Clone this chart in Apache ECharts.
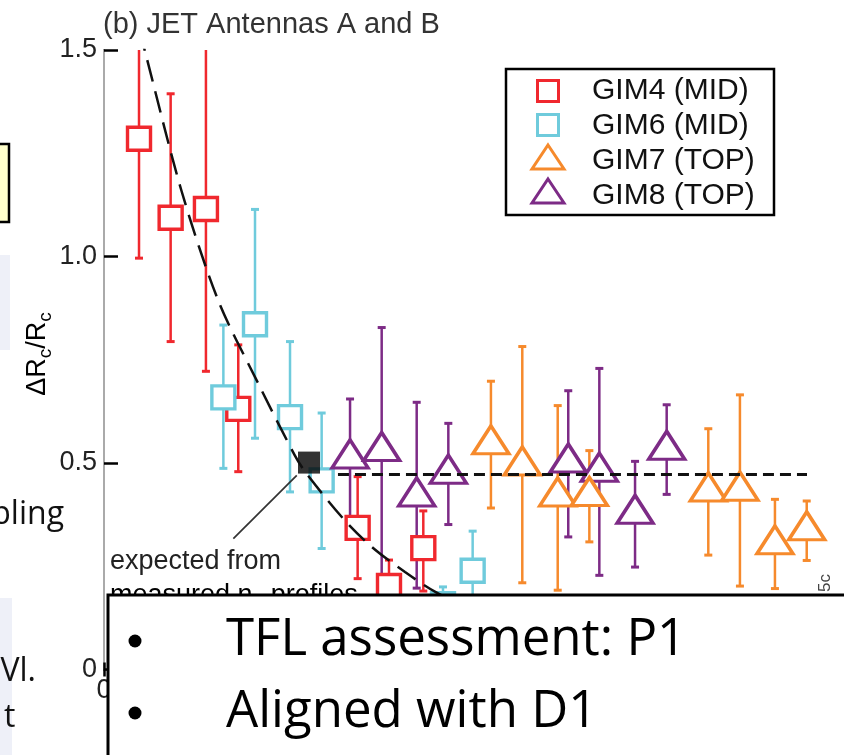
<!DOCTYPE html>
<html>
<head>
<meta charset="utf-8">
<script src="https://cdn.jsdelivr.net/npm/echarts@6/dist/echarts.min.js"></script>
<style>
  html, body { margin: 0; padding: 0; background: #fff; }
  #chart { width: 844px; height: 755px; }
</style>
</head>
<body>
<div id="chart"></div>
<script>
// ---- axis ranges ----
const X_MIN = 0, X_MAX = 5, X_STEP = 1;
const Y_MIN = 0, Y_MAX = 1.5, Y_STEP = 0.5;

// ---- GIM4 (MID), red squares: position, value, error-bar bounds ----
const gim4X  = [0.249, 0.474, 0.725, 0.955, 1.804, 2.027, 2.271];
const gim4Y  = [1.285, 1.094, 1.115, 0.631, 0.343, 0.202, 0.294];
const gim4Lo = [0.996, 0.794, 0.722, 0.479, 0.220, 0.100, 0.190];
const gim4Hi = [1.620, 1.394, 1.650, 0.786, 0.467, 0.265, 0.384];

// ---- GIM6 (MID), cyan squares ----
const gim6X  = [0.849, 1.074, 1.323, 1.548, 2.411, 2.622];
const gim6Y  = [0.659, 0.836, 0.611, 0.458, 0.158, 0.239];
const gim6Lo = [0.487, 0.560, 0.430, 0.293, 0.050, 0.100];
const gim6Hi = [0.834, 1.114, 0.794, 0.621, 0.200, 0.335];

// ---- GIM7 (TOP), orange triangles ----
const gim7X  = [2.752, 2.975, 3.227, 3.452, 4.298, 4.523, 4.772, 4.998];
const gim7Y  = [0.556, 0.505, 0.430, 0.431, 0.442, 0.444, 0.314, 0.348];
const gim7Lo = [0.391, 0.210, 0.192, 0.309, 0.277, 0.202, 0.196, 0.264];
const gim7Hi = [0.698, 0.782, 0.639, 0.530, 0.583, 0.665, 0.412, 0.408];

// ---- GIM8 (TOP), purple triangles ----
const gim8X  = [1.750, 1.975, 2.224, 2.449, 3.302, 3.523, 3.777, 4.002];
const gim8Y  = [0.522, 0.540, 0.430, 0.485, 0.512, 0.490, 0.388, 0.543];
const gim8Lo = [0.370, 0.180, 0.197, 0.351, 0.321, 0.228, 0.248, 0.424];
const gim8Hi = [0.655, 0.828, 0.647, 0.596, 0.675, 0.729, 0.504, 0.641];

// ---- expectation from measured density profiles ----
const curveX = [0.25, 0.292, 0.552, 0.813, 1.086, 1.358, 1.441, 1.702, 1.904, 2.141, 2.366, 2.60];
const curveY = [1.55, 1.496, 1.158, 0.893, 0.700, 0.518, 0.474, 0.365, 0.297, 0.236, 0.186, 0.150];
const expectedPoint = [1.458, 0.501];
const levelX = [1.664, 5.0];
const levelY = [0.472, 0.472];
const arrowFrom = [0.920, 0.317];
const arrowTo   = [1.371, 0.470];

// ---- texts ----
const titleText = '(b) JET Antennas A and B';
const annotationLines = ['expected from', 'measured n', 'e', ' profiles'];
const bulletLines = ['TFL assessment: P1', 'Aligned with D1'];
const seriesNames = ['GIM4 (MID)', 'GIM6 (MID)', 'GIM7 (TOP)', 'GIM8 (TOP)'];

const RED = '#f0282e', CYAN = '#6fcbdc', ORANGE = '#f68a2c', PURPLE = '#7d2b86';
const PLOT_FONT = '"Liberation Sans", Arial, Helvetica, sans-serif';
const SLIDE_FONT = '"Open Sans", sans-serif';

function errorBars(name, xs, los, his, color, lw) {
  return {
    type: 'custom',
    name: name + ' err',
    silent: true,
    data: xs.map((x, i) => [x, los[i], his[i]]),
    encode: { x: 0, y: [1, 2] },
    renderItem(params, api) {
      const x = api.value(0), lo = api.value(1), hi = api.value(2);
      const top = api.coord([x, Math.min(hi, Y_MAX)]);
      const bot = api.coord([x, Math.max(lo, Y_MIN)]);
      const cap = 4;
      const st = { stroke: color, lineWidth: lw };
      const children = [
        { type: 'line', shape: { x1: top[0], y1: top[1], x2: bot[0], y2: bot[1] }, style: st }
      ];
      if (hi <= Y_MAX) children.push({ type: 'line', shape: { x1: top[0] - cap, y1: top[1], x2: top[0] + cap, y2: top[1] }, style: { stroke: color, lineWidth: 3 } });
      if (lo >= Y_MIN) children.push({ type: 'line', shape: { x1: bot[0] - cap, y1: bot[1], x2: bot[0] + cap, y2: bot[1] }, style: { stroke: color, lineWidth: 3 } });
      return { type: 'group', children };
    }
  };
}

function markers(name, xs, ys, symbol, size, color) {
  return {
    type: 'scatter',
    name,
    silent: true,
    symbol,
    symbolSize: size,
    data: xs.map((x, i) => [x, ys[i]]),
    itemStyle: { color: '#fff', borderColor: color, borderWidth: 3.4, opacity: 1 }
  };
}

const SQ = 23, TRI = [36, 28];

const series = [
  errorBars(seriesNames[0], gim4X, gim4Lo, gim4Hi, RED, 2.5),
  markers(seriesNames[0], gim4X, gim4Y, 'rect', SQ, RED),
  errorBars(seriesNames[1], gim6X, gim6Lo, gim6Hi, CYAN, 2.5),
  markers(seriesNames[1], gim6X, gim6Y, 'rect', SQ, CYAN),
  errorBars(seriesNames[3], gim8X, gim8Lo, gim8Hi, PURPLE, 2.5),
  markers(seriesNames[3], gim8X, gim8Y, 'triangle', TRI, PURPLE),
  errorBars(seriesNames[2], gim7X, gim7Lo, gim7Hi, ORANGE, 2.5),
  markers(seriesNames[2], gim7X, gim7Y, 'triangle', TRI, ORANGE),
  {
    type: 'line', name: 'expected', silent: true, symbol: 'none', smooth: 0.3,
    data: curveX.map((x, i) => [x, curveY[i]]),
    lineStyle: { color: '#111', width: 2.5, type: [22, 10] },
    markLine: {
      silent: true, symbol: ['none', 'arrow'], symbolSize: [0, 13],
      label: { show: false },
      lineStyle: { color: '#333', width: 1.7, type: 'solid' },
      data: [[{ coord: arrowFrom }, { coord: arrowTo }]]
    }
  },
  {
    type: 'line', name: 'level', silent: true, symbol: 'none',
    data: levelX.map((x, i) => [x, levelY[i]]),
    lineStyle: { color: '#111', width: 3, type: [11, 6] }
  },
  {
    type: 'scatter', name: 'expected point', silent: true, symbol: 'rect', symbolSize: 22,
    data: [expectedPoint],
    itemStyle: { color: '#000' }
  }
];

// legend box drawn as graphic
const legendRows = [
  { name: seriesNames[0], shape: 'rect', color: RED, cy: 91 },
  { name: seriesNames[1], shape: 'rect', color: CYAN, cy: 125 },
  { name: seriesNames[2], shape: 'tri', color: ORANGE, cy: 157 },
  { name: seriesNames[3], shape: 'tri', color: PURPLE, cy: 191 }
];
const legendTextY = [91, 126, 161, 196];
const legendGraphics = [
  { type: 'rect', z: 50, shape: { x: 506, y: 69, width: 268, height: 146 }, style: { fill: '#fff', stroke: '#000', lineWidth: 2.5 } }
];
legendRows.forEach((r, i) => {
  const cx = 548;
  if (r.shape === 'rect') {
    legendGraphics.push({ type: 'rect', z: 51, shape: { x: cx - 10.5, y: r.cy - 10.5, width: 21, height: 21 }, style: { fill: '#fff', stroke: r.color, lineWidth: 3 } });
  } else {
    legendGraphics.push({ type: 'polygon', z: 51, shape: { points: [[cx, r.cy - 12], [cx + 16, r.cy + 12], [cx - 16, r.cy + 12]] }, style: { fill: '#fff', stroke: r.color, lineWidth: 3 } });
  }
  legendGraphics.push({ type: 'text', z: 51, x: 592, y: legendTextY[i], style: { text: r.name, font: '30px ' + PLOT_FONT, fill: '#111', textAlign: 'left', textVerticalAlign: 'middle' } });
});

const option = {
  animation: false,
  backgroundColor: '#fff',
  grid: { left: 104, right: 37, top: 50, bottom: 85.5, containLabel: false, outerBoundsMode: 'none' },
  xAxis: [
    {
      type: 'value', min: X_MIN, max: X_MAX, interval: X_STEP, position: 'bottom',
      axisLine: { show: true, lineStyle: { color: '#000', width: 2 } },
      axisTick: { show: true, inside: true, length: 7, lineStyle: { color: '#000', width: 2.5 } },
      axisLabel: { show: true, margin: 8, fontSize: 27, fontFamily: PLOT_FONT, color: '#222' },
      splitLine: { show: false }
    },
    {
      type: 'value', min: X_MIN, max: X_MAX, interval: X_STEP, position: 'top',
      axisLine: { show: true, lineStyle: { color: '#aaa', width: 2 } },
      axisTick: { show: true, inside: true, length: 7, lineStyle: { color: '#000', width: 2.5 } },
      axisLabel: { show: false },
      splitLine: { show: false }
    }
  ],
  yAxis: [
    {
      type: 'value', min: Y_MIN, max: Y_MAX, interval: Y_STEP, position: 'left',
      axisLine: { show: true, lineStyle: { color: '#555', width: 2 } },
      axisTick: { show: true, inside: true, length: 14, lineStyle: { color: '#000', width: 2.5 } },
      axisLabel: {
        show: true, margin: 7, fontSize: 27, fontFamily: PLOT_FONT, color: '#222',
        formatter: v => (v === 0 ? '0' : v.toFixed(1))
      },
      splitLine: { show: false }
    },
    {
      type: 'value', min: Y_MIN, max: Y_MAX, interval: Y_STEP, position: 'right',
      axisLine: { show: true, lineStyle: { color: '#aaa', width: 2 } },
      axisTick: { show: false }, axisLabel: { show: false }, splitLine: { show: false }
    }
  ],
  series,
  graphic: [
    // slide background pieces at the left edge
    { type: 'rect', z: 0, shape: { x: 0, y: 255, width: 10, height: 95 }, style: { fill: '#eef0f8' } },
    { type: 'rect', z: 0, shape: { x: 0, y: 598, width: 12, height: 157 }, style: { fill: '#eef0f8' } },
    { type: 'rect', z: 1, shape: { x: -6, y: 144, width: 15, height: 78 }, style: { fill: '#ffffcc', stroke: '#000', lineWidth: 2.5 } },
    { type: 'text', z: 1, x: 64, y: 515, style: { text: 'pling', font: '32px ' + SLIDE_FONT, fill: '#111', textAlign: 'right', textVerticalAlign: 'middle' } },
    { type: 'text', z: 1, x: 36, y: 672, style: { text: 'Vl.', font: '32px ' + SLIDE_FONT, fill: '#111', textAlign: 'right', textVerticalAlign: 'middle' } },
    { type: 'text', z: 1, x: 4, y: 718, style: { text: 't', font: '32px ' + SLIDE_FONT, fill: '#111', textAlign: 'left', textVerticalAlign: 'middle' } },

    // title and axis name
    { type: 'text', z: 5, x: 103, y: 25, style: { text: titleText, font: '29px ' + PLOT_FONT, fill: '#333', textAlign: 'left', textVerticalAlign: 'middle' } },
    {
      type: 'text', z: 5, x: 38, y: 354, rotation: Math.PI / 2,
      style: {
        text: '{a|ΔR}{b|c}{a|/R}{b|c}',
        textAlign: 'center', textVerticalAlign: 'middle',
        rich: {
          a: { fontSize: 27, fontFamily: PLOT_FONT, color: '#333', lineHeight: 34 },
          b: { fontSize: 19, fontFamily: PLOT_FONT, color: '#333', lineHeight: 17, verticalAlign: 'bottom' }
        }
      }
    },

    // annotation of the expected point
    { type: 'text', z: 5, x: 110, y: 562, style: { text: annotationLines[0], font: '27px ' + PLOT_FONT, fill: '#222', textAlign: 'left', textVerticalAlign: 'middle' } },
    { type: 'text', z: 5, x: 110, y: 596, style: { text: '{a|' + annotationLines[1] + '}{b|' + annotationLines[2] + '}{a|' + annotationLines[3] + '}', textAlign: 'left', textVerticalAlign: 'middle',
      rich: { a: { fontSize: 27, fontFamily: PLOT_FONT, color: '#222', lineHeight: 34 }, b: { fontSize: 19, fontFamily: PLOT_FONT, color: '#222', lineHeight: 17, verticalAlign: 'bottom' } } } },
    { type: 'text', z: 5, x: 825, y: 583, rotation: Math.PI / 2, style: { text: '5c', font: '17px ' + PLOT_FONT, fill: '#444', textAlign: 'center', textVerticalAlign: 'middle' } },

    ...legendGraphics,

    // bullet box laid over the lower part of the plot
    { type: 'rect', z: 100, shape: { x: 108, y: 595, width: 760, height: 200 }, style: { fill: '#fff', stroke: '#000', lineWidth: 3 } },
    { type: 'circle', z: 101, shape: { cx: 135, cy: 641, r: 6.5 }, style: { fill: '#000' } },
    { type: 'circle', z: 101, shape: { cx: 135, cy: 713, r: 6.5 }, style: { fill: '#000' } },
    { type: 'text', z: 101, x: 226, y: 640, style: { text: bulletLines[0], font: '51px ' + SLIDE_FONT, fill: '#000', textAlign: 'left', textVerticalAlign: 'middle' } },
    { type: 'text', z: 101, x: 226, y: 712, style: { text: bulletLines[1], font: '51px ' + SLIDE_FONT, fill: '#000', textAlign: 'left', textVerticalAlign: 'middle' } }
  ]
};

const chart = echarts.init(document.getElementById('chart'), null, { renderer: 'canvas' });
chart.setOption(option);
</script>
</body>
</html>
